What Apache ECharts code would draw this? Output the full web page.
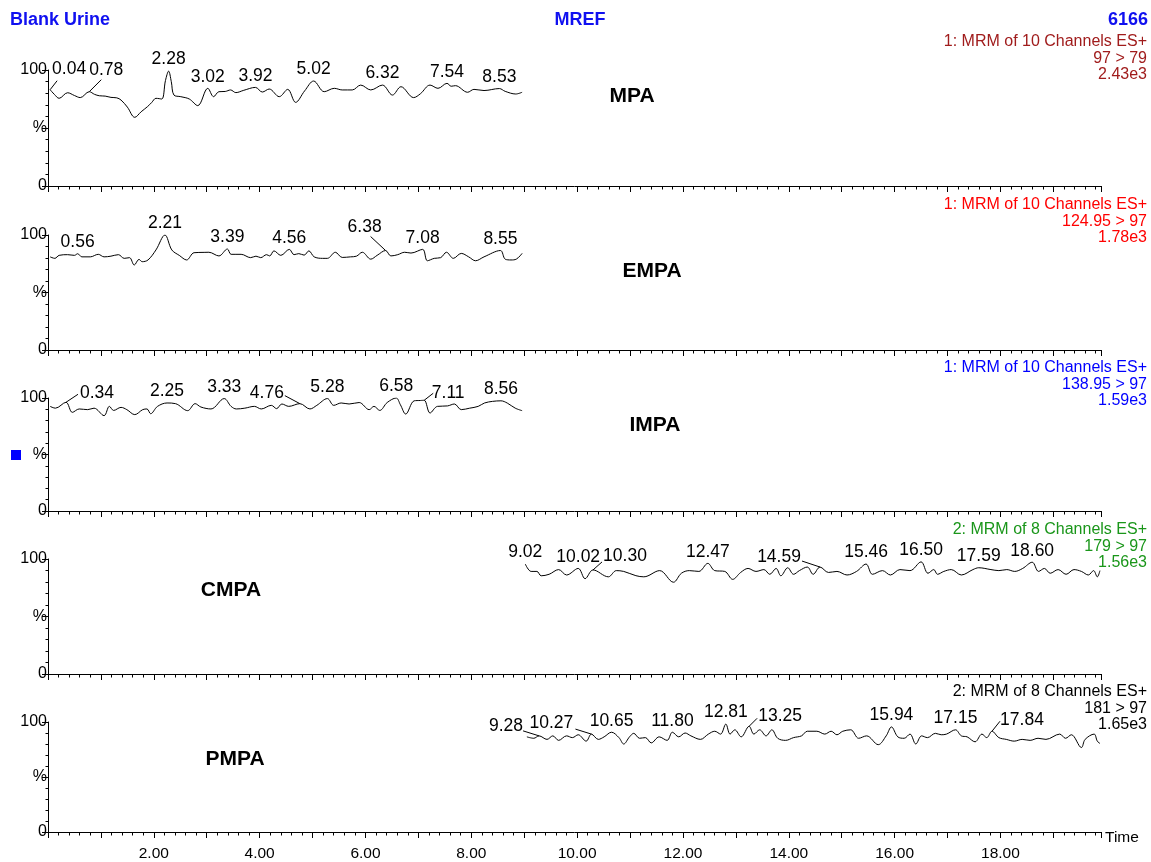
<!DOCTYPE html>
<html>
<head>
<meta charset="utf-8">
<title>Blank Urine – MREF</title>
<script src="https://cdn.jsdelivr.net/npm/echarts@6/dist/echarts.min.js"></script>
<style>
  html, body { margin: 0; padding: 0; background: #fff; }
  #chart { width: 1151px; height: 862px; }
</style>
</head>
<body>
<div id="chart"></div>
<script>
// ---- Chromatogram traces: [retention time (min), relative intensity (%)] ----
const mpaTrace = [
  [0.04,83],[0.12,79],[0.21,75.6],[0.37,80.4],[0.50,78],[0.61,76.2],[0.78,81.3],[0.88,79],
  [0.97,77.8],[1.08,77.5],[1.19,76.4],[1.30,76],[1.38,74.1],[1.50,68],[1.64,59.2],[1.76,64],
  [1.88,68.4],[1.96,72],[2.04,75.6],[2.15,75],[2.22,91],[2.28,99],[2.33,90],[2.38,78.4],[2.51,77],[2.67,75],
  [2.83,69.3],[3.02,84.2],[3.13,77],[3.23,81.3],[3.35,81.5],[3.45,82.8],[3.55,80.5],[3.70,82.5],
  [3.92,85],[4.05,81],[4.18,83.6],[4.37,77],[4.53,83.3],[4.68,72.1],[4.85,82],[5.02,90.5],
  [5.22,81.3],[5.41,84.2],[5.56,82.8],[5.75,82.8],[5.91,87],[6.10,82.8],[6.32,87],[6.51,78.4],
  [6.67,85.6],[6.91,76.2],[7.04,79.6],[7.22,87],[7.37,84.2],[7.54,88.5],[7.62,86],[7.70,86.5],
  [7.93,80.8],[8.05,83.3],[8.24,82.3],[8.53,84],[8.64,81.6],[8.84,79.3],[8.96,80.8]
];
const empaTrace = [
  [0.04,81],[0.13,79.7],[0.21,82.3],[0.37,82.9],[0.50,82.3],[0.56,83.7],[0.64,81],[0.80,81],
  [0.95,83.2],[1.06,81],[1.19,81.6],[1.33,82.9],[1.44,79.7],[1.54,80.3],[1.63,73.9],[1.72,78.8],
  [1.78,76.8],[1.89,78.3],[2.04,87],[2.21,100],[2.34,87],[2.48,82.3],[2.62,78.3],[2.76,84.6],
  [2.95,84.9],[3.04,85],[3.23,81.8],[3.39,87.8],[3.46,83.2],[3.65,83.2],[3.83,80.3],[3.93,81.6],
  [4.02,80.3],[4.13,82.9],[4.19,81.8],[4.27,86.2],[4.40,82.3],[4.56,87.5],[4.65,82.9],[4.74,83.8],
  [4.84,82.5],[4.93,86.2],[5.03,81],[5.19,79.7],[5.28,79.7],[5.43,85],[5.56,80.5],[5.72,81],
  [5.83,81.6],[5.94,85],[6.10,79],[6.22,82.3],[6.38,86.5],[6.48,81.8],[6.61,82.9],[6.74,85],
  [6.86,84.3],[7.08,87.5],[7.17,77.6],[7.30,79.7],[7.42,80.3],[7.53,85],[7.66,79.7],[7.81,84],
  [7.95,81],[8.08,77.6],[8.24,81],[8.55,86.5],[8.64,79],[8.75,78.3],[8.85,79],[8.96,84]
];
const impaTrace = [
  [0.04,92.6],[0.14,91],[0.34,96.2],[0.46,87.3],[0.59,90.3],[0.75,89.7],[0.87,91],[1.06,84.4],
  [1.16,92.6],[1.24,89],[1.38,91.7],[1.49,89.7],[1.64,85.3],[1.79,89.7],[1.87,90.3],[1.94,86.1],
  [2.07,92.6],[2.25,95.6],[2.41,95],[2.64,88.8],[2.78,95],[2.89,92],[3.08,90.3],[3.33,99.5],
  [3.46,92.6],[3.56,90.3],[3.72,91],[3.90,92.6],[4.03,90.3],[4.22,93.5],[4.32,90.6],[4.42,94.7],
  [4.55,92.6],[4.76,95],[4.95,90.3],[5.08,93.5],[5.28,99.5],[5.40,93.5],[5.54,95.6],[5.69,94.7],
  [5.88,96],[6.07,89.7],[6.16,92.6],[6.27,89],[6.41,96],[6.58,100],[6.66,94],[6.76,85.8],
  [6.92,97.5],[7.04,97.8],[7.11,98],[7.22,86.7],[7.36,92.6],[7.55,93],[7.68,94.7],[7.81,89.7],
  [7.97,91],[8.13,92.6],[8.25,95.6],[8.40,97],[8.56,97.5],[8.68,95.5],[8.83,91],[8.96,88.8]
];
const cmpaTrace = [
  [9.02,95.6],[9.13,89.2],[9.24,89.2],[9.32,85.4],[9.47,86.7],[9.65,90.8],[9.80,86.1],[10.02,91.8],
  [10.15,82.9],[10.30,90.5],[10.59,84.5],[10.74,89.9],[10.88,89.2],[11.11,85.5],[11.26,84.5],[11.56,89.9],
  [11.82,79.8],[11.97,87.6],[12.12,89.9],[12.30,89.2],[12.47,96.2],[12.60,89.9],[12.79,89.2],[12.94,82.3],
  [13.09,88.3],[13.23,91.8],[13.38,89.2],[13.53,90.8],[13.64,86.7],[13.76,91.8],[13.85,85.4],[13.98,92.4],
  [14.09,86.7],[14.20,89.9],[14.35,93.0],[14.46,86.7],[14.59,93.0],[14.75,88.3],[14.91,89.2],[15.10,86.1],
  [15.28,89.2],[15.46,95.6],[15.58,86.7],[15.77,89.9],[15.92,86.1],[16.10,90.8],[16.29,89.9],[16.50,97.5],
  [16.63,87.6],[16.74,90.8],[16.81,86.7],[16.93,89.2],[17.07,90.8],[17.26,86.1],[17.48,90.8],[17.59,92.4],
  [17.82,90.8],[17.97,89.9],[18.12,90.8],[18.27,89.2],[18.42,91.8],[18.60,97.2],[18.72,89.2],[18.83,91.8],
  [18.94,87.6],[19.09,90.8],[19.24,86.7],[19.39,90.8],[19.53,89.2],[19.66,86.1],[19.76,89.9],[19.83,84.5],
  [19.88,89.9]
];
const pmpaTrace = [
  [9.05,86.5],[9.18,85.2],[9.28,87.4],[9.43,84.2],[9.54,87.4],[9.65,83.3],[9.80,87.4],[9.91,85.8],
  [10.02,88.4],[10.17,82.6],[10.27,89.0],[10.40,84.2],[10.51,86.5],[10.65,90.7],[10.79,85.8],[10.88,80.0],
  [10.99,86.5],[11.07,89.7],[11.18,85.2],[11.29,85.8],[11.40,81.0],[11.55,86.5],[11.70,83.3],[11.80,90.7],
  [11.92,86.5],[12.04,90.0],[12.15,87.4],[12.33,84.2],[12.48,89.0],[12.60,91.6],[12.71,89.0],[12.81,98.1],
  [12.89,89.0],[12.98,92.9],[13.10,86.5],[13.25,96.1],[13.34,89.0],[13.45,92.9],[13.57,87.4],[13.68,92.9],
  [13.79,85.2],[13.94,83.3],[14.09,85.8],[14.24,87.4],[14.35,91.6],[14.53,91.6],[14.68,89.0],[14.80,91.6],
  [14.91,88.4],[15.02,91.6],[15.17,92.9],[15.32,85.2],[15.47,87.4],[15.69,79.4],[15.84,87.4],[15.94,95.5],
  [16.06,86.5],[16.18,85.2],[16.29,89.0],[16.40,80.0],[16.51,87.4],[16.62,85.8],[16.77,89.7],[16.88,88.4],
  [16.98,89.0],[17.15,92.9],[17.26,87.4],[17.37,86.5],[17.52,82.0],[17.65,89.0],[17.74,85.8],[17.84,91.6],
  [17.97,85.8],[18.11,84.2],[18.26,82.6],[18.41,84.2],[18.56,83.3],[18.71,85.2],[18.86,84.2],[19.12,89.0],
  [19.23,85.2],[19.34,88.4],[19.53,76.8],[19.60,84.2],[19.77,89.0],[19.83,82.6],[19.88,80.5]
];

// ---- Annotated peak apexes: [retention time, relative intensity] ----
const mpaPeaks  = [[0.04,83],[0.78,81.3],[2.28,99],[3.02,84.2],[3.92,85],[5.02,90.5],[6.32,87],[7.54,88.5],[8.53,84]];
const empaPeaks = [[0.56,83.7],[2.21,100],[3.39,87.8],[4.56,87.5],[6.38,86.5],[7.08,87.5],[8.55,86.5]];
const impaPeaks = [[0.34,96.2],[2.25,95.6],[3.33,99.5],[4.76,95],[5.28,99.5],[6.58,100],[7.11,98],[8.56,97.5]];
const cmpaPeaks = [[9.02,95.6],[10.02,91.8],[10.30,90.5],[12.47,96.2],[14.59,93.0],[15.46,95.6],[16.50,97.5],[17.59,92.4],[18.60,97.2]];
const pmpaPeaks = [[9.28,87.4],[10.27,89.0],[10.65,90.7],[11.80,90.7],[12.81,98.1],[13.25,96.1],[15.94,95.5],[17.15,92.9],[17.84,91.6]];

// ---- Panel annotations ----
const compoundNames = ['MPA', 'EMPA', 'IMPA', 'CMPA', 'PMPA'];
const channelLines = [
  ['1: MRM of 10 Channels ES+', '97 > 79', '2.43e3'],
  ['1: MRM of 10 Channels ES+', '124.95 > 97', '1.78e3'],
  ['1: MRM of 10 Channels ES+', '138.95 > 97', '1.59e3'],
  ['2: MRM of 8 Channels ES+', '179 > 97', '1.56e3'],
  ['2: MRM of 8 Channels ES+', '181 > 97', '1.65e3']
];
const headerLeft = 'Blank Urine', headerMid = 'MREF', headerRight = '6166';
const timeAxisName = 'Time';

// ---- Layout and styling ----
const FONT = '"Liberation Sans", Arial, Helvetica, sans-serif';
const PEAK_FONT = '17.5px ' + FONT;
const panelTop    = [70, 235, 398, 559, 722];
const panelHeight = [116, 115, 113, 115, 113];
const channelColor = ['#a01c1c', '#ff0000', '#0000ff', '#1a961a', '#000000'];
const namePos = [[632, 96], [652, 271], [655, 425], [231, 590], [235, 759]];
const infoTop = [34, 197, 360, 522, 684];
// peak labels set beside their apex, joined by a leader:
// label -> [leader end dx, dy, label centre dx, dy] in pixels from the apex
const leaderShift = [
  {'0.04': [7, -9, 19, -21], '0.78': [12, -12, 17, -22]},
  {'6.38': [-15, -14, -21, -23]},
  {'0.34': [12, -8, 31, -9], '4.76': [-15, -8, -33, -10], '7.11': [9, -7, 24, -7]},
  {'10.30': [9, -8, 32, -14], '14.59': [-18, -6, -41, -10]},
  {'9.28': [-16, -5, -33, -10], '10.27': [-16, -5, -40, -11], '13.25': [8, -8, 31, -10], '17.84': [8, -10, 30, -11]}
];

const traces = [mpaTrace, empaTrace, impaTrace, cmpaTrace, pmpaTrace];
const peaks  = [mpaPeaks, empaPeaks, impaPeaks, cmpaPeaks, pmpaPeaks];
const fmt = t => t.toFixed(2);

const grids = [], xAxes = [], yAxes = [], series = [], graphics = [];

panelTop.forEach((top, i) => {
  grids.push({ left: 48, right: 50, top: top, height: panelHeight[i], containLabel: false });
  xAxes.push({
    gridIndex: i, type: 'value', min: 0, max: 19.9, interval: 1,
    axisLine: { show: true, onZero: false, lineStyle: { color: '#000', width: 1 } },
    axisTick: { show: true, length: 6, lineStyle: { color: '#000', width: 1 } },
    minorTick: { show: true, splitNumber: 5, length: 3.5, lineStyle: { color: '#000', width: 1 } },
    splitLine: { show: false }, minorSplitLine: { show: false },
    axisLabel: {
      show: i === 4, color: '#000', fontSize: 15.5, fontFamily: FONT, margin: 14,
      formatter: v => (v > 0 && v < 19.5 && Math.abs(v - Math.round(v)) < 1e-6 && Math.round(v) % 2 === 0) ? v.toFixed(2) : ''
    }
  });
  yAxes.push({
    gridIndex: i, type: 'value', min: 0, max: 100, interval: 50,
    axisLine: { show: true, onZero: false, lineStyle: { color: '#000', width: 1 } },
    axisTick: { show: true, length: 6, lineStyle: { color: '#000', width: 1 } },
    minorTick: { show: true, splitNumber: 5, length: 2.5, lineStyle: { color: '#000', width: 1 } },
    splitLine: { show: false }, minorSplitLine: { show: false },
    axisLabel: {
      color: '#000', fontSize: 16, fontFamily: FONT, margin: 1,
      formatter: v => v === 100 ? '100' : v === 50 ? '%' : v === 0 ? '0' : ''
    }
  });

  series.push({
    type: 'line', xAxisIndex: i, yAxisIndex: i, data: traces[i],
    showSymbol: false, smooth: 0.35, silent: true,
    lineStyle: { color: '#000', width: 1 }, z: 3
  });

  // peaks labelled straight above the apex
  series.push({
    type: 'scatter', xAxisIndex: i, yAxisIndex: i,
    data: peaks[i].filter(p => !leaderShift[i][fmt(p[0])]),
    symbolSize: 1, silent: true,
    itemStyle: { color: 'rgba(0,0,0,0)', opacity: 1 },
    label: {
      show: true, position: 'top', distance: 2, color: '#000', opacity: 1,
      fontSize: 17.5, fontFamily: FONT, formatter: p => fmt(p.value[0])
    },
    z: 4
  });

  // compound name inside the panel
  graphics.push({
    type: 'text', silent: true,
    style: { text: compoundNames[i], x: namePos[i][0], y: namePos[i][1], font: 'bold 21px ' + FONT,
             fill: '#000', textAlign: 'center', textVerticalAlign: 'middle' }
  });
  // channel description at the right edge
  channelLines[i].forEach((t, k) => {
    graphics.push({
      type: 'text', silent: true,
      style: { text: t, x: 1147, y: infoTop[i] + k * 16.5, font: '16px ' + FONT,
               fill: channelColor[i], textAlign: 'right', textVerticalAlign: 'top' }
    });
  });
});

// header line, time axis name, channel marker
graphics.push(
  { type: 'text', silent: true, style: { text: headerLeft, x: 10, y: 20, font: 'bold 18px ' + FONT, fill: '#1010f0', textAlign: 'left', textVerticalAlign: 'middle' } },
  { type: 'text', silent: true, style: { text: headerMid, x: 580, y: 20, font: 'bold 18px ' + FONT, fill: '#1010f0', textAlign: 'center', textVerticalAlign: 'middle' } },
  { type: 'text', silent: true, style: { text: headerRight, x: 1148, y: 20, font: 'bold 18px ' + FONT, fill: '#1010f0', textAlign: 'right', textVerticalAlign: 'middle' } },
  { type: 'text', silent: true, style: { text: timeAxisName, x: 1105, y: 838, font: '15.5px ' + FONT, fill: '#000', textAlign: 'left', textVerticalAlign: 'middle' } },
  { type: 'rect', silent: true, shape: { x: 11, y: 450, width: 10, height: 10 }, style: { fill: '#0000ff' } }
);

const chart = echarts.init(document.getElementById('chart'), null, { renderer: 'canvas' });
chart.setOption({
  animation: false,
  backgroundColor: '#fff',
  textStyle: { fontFamily: FONT },
  grid: grids, xAxis: xAxes, yAxis: yAxes, series: series
});

// leader-line labels: anchored on the apex position given by each panel's scales
peaks.forEach((list, i) => {
  list.forEach(p => {
    const s = leaderShift[i][fmt(p[0])];
    if (!s) return;
    const px = chart.convertToPixel({ xAxisIndex: i, yAxisIndex: i }, p);
    graphics.push({
      type: 'line', silent: true, z: 5,
      shape: { x1: px[0], y1: px[1], x2: px[0] + s[0], y2: px[1] + s[1] },
      style: { stroke: '#000', lineWidth: 1 }
    });
    graphics.push({
      type: 'text', silent: true, z: 5,
      style: { text: fmt(p[0]), x: px[0] + s[2], y: px[1] + s[3], font: PEAK_FONT,
               fill: '#000', textAlign: 'center', textVerticalAlign: 'middle' }
    });
  });
});

chart.setOption({ graphic: graphics });
</script>
</body>
</html>
